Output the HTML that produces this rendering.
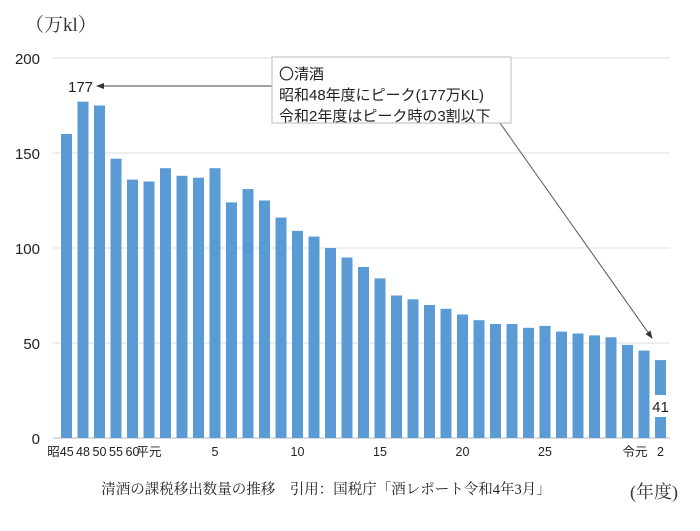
<!DOCTYPE html>
<html><head><meta charset="utf-8"><style>
body{margin:0;background:#fff}
svg text{font-family:"Liberation Sans","Noto Sans CJK JP",sans-serif}
.serif{font-family:"Liberation Serif","Noto Serif CJK SC",serif !important}
</style></head><body>
<svg id="chart" width="700" height="526" viewBox="0 0 700 526">
<defs><marker id="ah" markerWidth="8" markerHeight="6" refX="7" refY="3" orient="auto"><path d="M0,0 L8,3 L0,6 z" fill="#333"/></marker></defs>
<g id="grid"></g><g id="bars"></g><g id="labels"></g>
<text class="serif" x="25" y="31" font-size="19" fill="#333">（万kl）</text>
<text class="serif" x="630" y="498" font-size="18" fill="#333">(年度)</text>
<text class="serif" x="326" y="494" font-size="14.5" fill="#222" text-anchor="middle">清酒の課税移出数量の推移　引用：国税庁「酒レポート令和4年3月」</text>
<line x1="272" y1="86" x2="97" y2="86" stroke="#444" stroke-width="1" marker-end="url(#ah)"/>
<text x="68" y="92" font-size="15" fill="#222">177</text>
<line x1="500" y1="123" x2="652" y2="338" stroke="#555" stroke-width="1" marker-end="url(#ah)"/>
<g>
<rect x="272" y="57" width="239" height="66" fill="#fff" stroke="#bbb"/>
<text x="279" y="79" font-size="15" fill="#222">〇清酒</text>
<text x="279" y="100" font-size="15" fill="#222">昭和48年度にピーク(177万KL)</text>
<text x="279" y="121" font-size="15" fill="#222">令和2年度はピーク時の3割以下</text>
</g>
</svg>
<script>
const categories=["昭45","48","50","55","60","平元","2","3","4","5","6","7","8","9","10","11","12","13","14","15","16","17","18","19","20","21","22","23","24","25","26","27","28","29","30","令元","2"];
const shownLabels=["昭45","48","50","55","60","平元","","","","5","","","","","10","","","","","15","","","","","20","","","","","25","","","","","","令元","2"];
const values=[160,177,175,147,136,135,142,138,137,142,124,131,125,116,109,106,100,95,90,84,75,73,70,68,65,62,60,60,58,59,56,55,54,53,49,46,41];
const yTicks=[0,50,100,150,200];
const NS="http://www.w3.org/2000/svg";
const gx0=53,gx1=670,x0=58.25,x1=668.75,yb=438,yt=58,ymax=200;
const y=v=>yb-(yb-yt)*v/ymax;
const step=(x1-x0)/categories.length;
const xc=i=>x0+step*(i+0.5);
const bw=11;
function mk(t,a,p){const e=document.createElementNS(NS,t);for(const k in a)e.setAttribute(k,a[k]);p.appendChild(e);return e;}
const grid=document.getElementById('grid'),bars=document.getElementById('bars'),labels=document.getElementById('labels');
yTicks.forEach(v=>{
 const l=mk('line',{x1:gx0,x2:gx1,y1:y(v),y2:y(v),stroke:v===0?'#bbb':'#ddd','stroke-width':1},grid);
 
 
 const t=mk('text',{x:40,y:y(v)+6,'text-anchor':'end','font-size':15,fill:'#222'},grid);
 t.textContent=v;
 
 
});
values.forEach((v,i)=>{
 const r=mk('rect',{x:xc(i)-bw/2,y:y(v),width:bw,height:yb-y(v),fill:'#5b9bd5'},bars);
 
 
 if(shownLabels[i]){
  const dx=i===0?-6:(i===35?-9:0);
  const t=mk('text',{x:xc(i)+dx,y:456,'text-anchor':'middle','font-size':12.5,fill:'#222'},labels);
  t.textContent=shownLabels[i];
  
  
 }
});
const li=values.length-1;
const bg=mk('rect',{x:xc(li)-8,y:395,width:18,height:22,fill:'#fff'},labels);


const lt=mk('text',{x:xc(li),y:412,'text-anchor':'middle','font-size':15,fill:'#222'},labels);
lt.textContent=values[li];


</script>
</body></html>
